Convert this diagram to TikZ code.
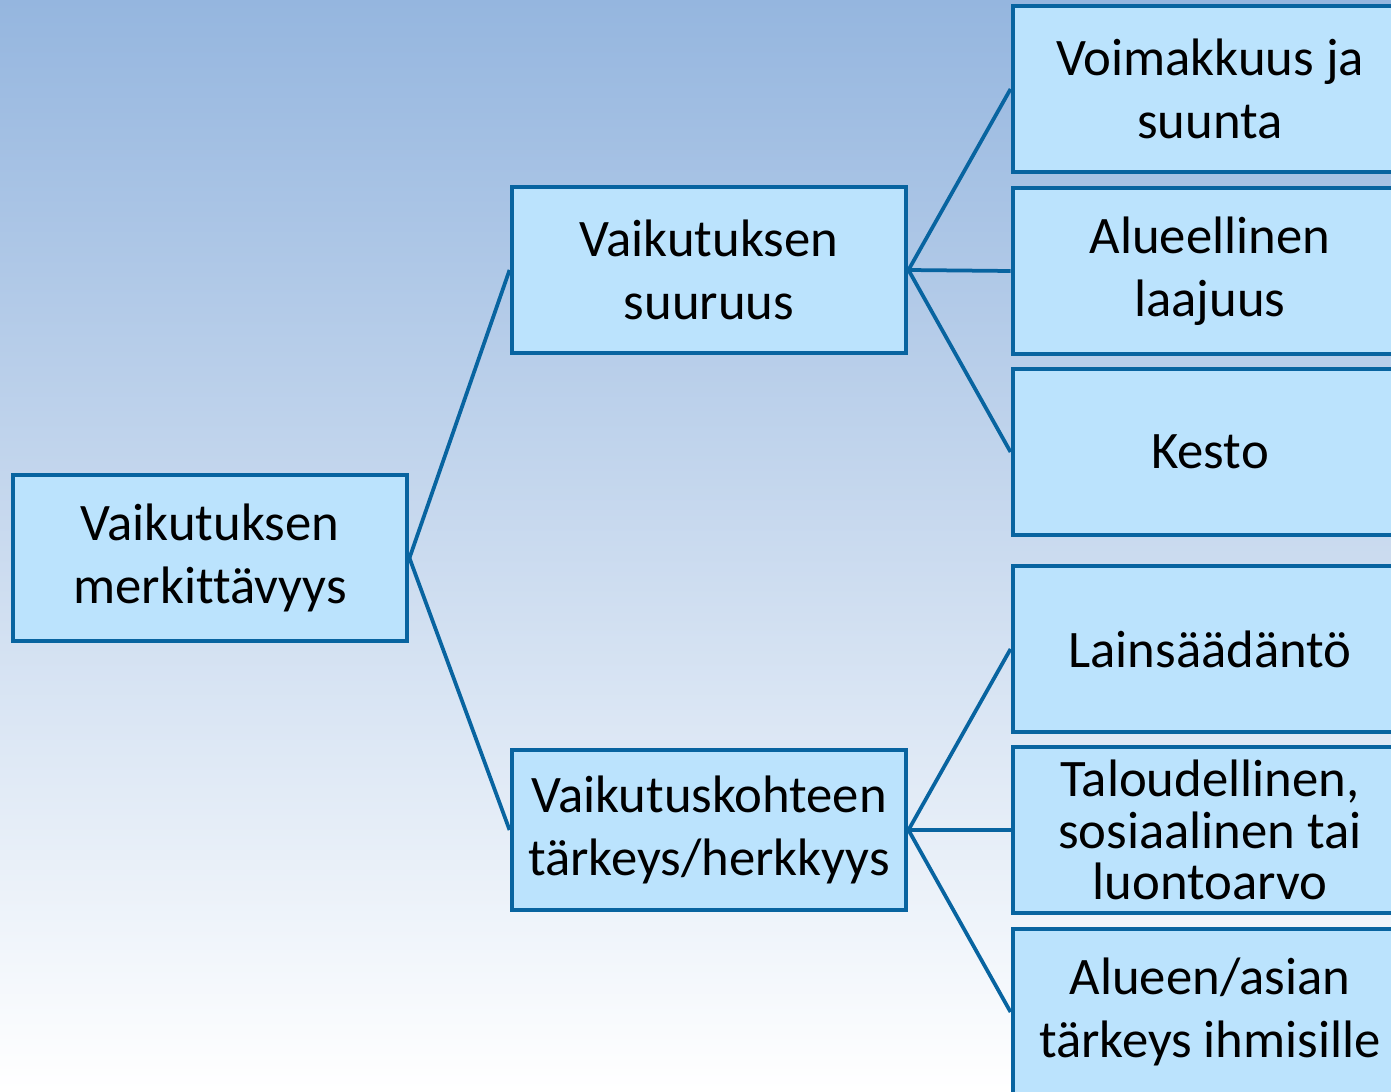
\documentclass[tikz,border=0pt]{standalone}
\usepackage{fontspec}
\setmainfont{Carlito}[Ligatures=NoCommon]
\usepackage{tikz}

\definecolor{bgtop}{RGB}{149,182,223}
\definecolor{boxfill}{RGB}{187,227,253}
\definecolor{boxline}{RGB}{8,100,160}

\tikzset{
  box/.style={draw=boxline, fill=boxfill, line width=0.08cm,
    minimum width=7.9cm, minimum height=3.32cm, align=center,
    font=\fontsize{30}{36}\selectfont, inner sep=0pt},
  link/.style={draw=boxline, line width=0.075cm}
}

\begin{document}
\begin{tikzpicture}
  [x=0.02cm, y=-0.02cm]
  \clip (0,0) rectangle (1391,1091);
  \shade[top color=bgtop, bottom color=white] (0,0) rectangle (1391,1091);

  \node[box] (root) at (210, 558) {Vaikutuksen\\merkittävyys};
  \node[box] (size) at (709, 270) {Vaikutuksen\\suuruus};
  \node[box, minimum height=3.2cm] (value) at (709, 830) {Vaikutuskohteen\\tärkeys/herkkyys};

  \node[box] (force) at (1210, 89) {Voimakkuus ja\\suunta};
  \node[box] (area) at (1210, 271) {Alueellinen\\laajuus};
  \node[box] (time) at (1210, 452) {Kesto};
  \node[box] (law) at (1210, 649) {Lainsäädäntö};
  \node[box, font=\fontsize{30}{29.5}\selectfont] (econ) at (1210, 830)
    {Taloudellinen,\\sosiaalinen tai\\luontoarvo};
  \node[box] (people) at (1210, 1012) {Alueen/asian\\tärkeys ihmisille};

  \foreach \from/\to in {root/size,root/value,size/force,size/area,size/time,value/law,value/econ,value/people}
  \draw[link] (\from.east) -- (\to.west);

\end{tikzpicture}
\end{document}
